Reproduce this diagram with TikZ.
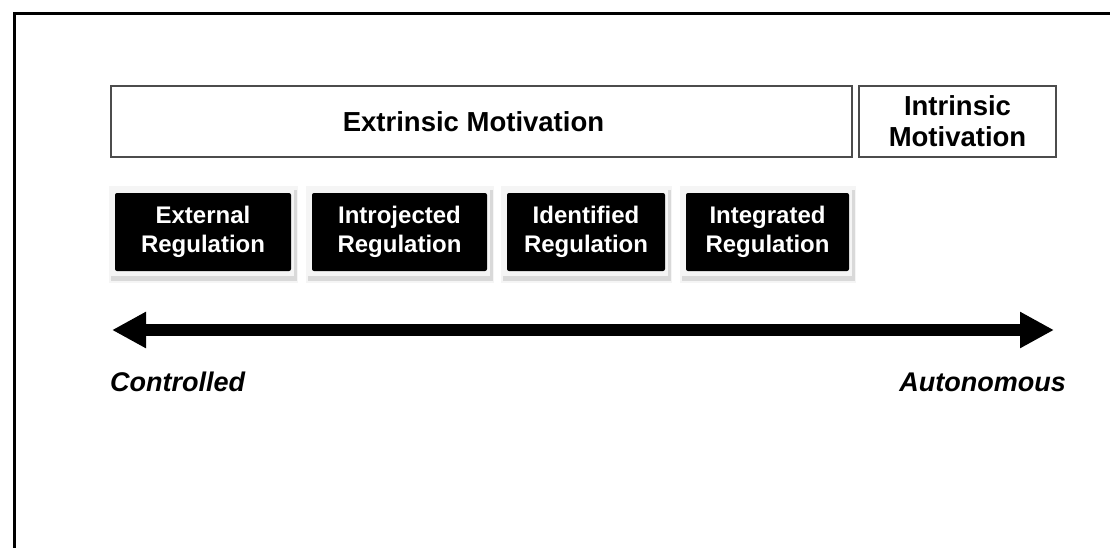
\documentclass[tikz,border=0pt]{standalone}
\usepackage{fontspec}
\setmainfont{Liberation Sans}
\usetikzlibrary{arrows.meta}

\tikzset{
    motbox/.style={draw=gray!60!black, line width=1.5pt, fill=white, align=center, inner sep=0pt,
        minimum height=71pt, font=\fontsize{27.5}{31}\selectfont\bfseries},
    regbox/.style={fill=black, rounded corners=2pt, text=white, align=center, inner sep=0pt,
        minimum height=78pt, font=\fontsize{24}{29}\selectfont\bfseries},
    endlabel/.style={inner sep=0pt, font=\fontsize{27}{32}\selectfont\bfseries\itshape},
}

\begin{document}
\begin{tikzpicture}[x=1pt, y=-1pt]
        \useasboundingbox (0,0) rectangle (1110,547);
        \fill[white] (0,0) rectangle (1110,547);

        % frame (only left and top show)
        \draw[black, line width=3pt] (14,549) -- (14,13) -- (1112,13);

        \node[motbox, minimum width=741pt] (extrinsic) at (481.5,121.5) {Extrinsic Motivation\hspace*{16pt}};
        \node[motbox, minimum width=197pt] (intrinsic) at (957.5,121.5) {Intrinsic\\Motivation};

        \foreach \x/\w/\name/\txt in {203/176/external/External, 399.5/175/introjected/Introjected,
                586/158/identified/Identified, 767.5/163/integrated/Integrated} {
            \fill[gray!8] (\x-\w/2-6,186) rectangle (\x+\w/2+7,283);
            \fill[gray!30] (\x-\w/2-4,276) rectangle (\x+\w/2+6,281);
            \fill[gray!30] (\x+\w/2+3,190) rectangle (\x+\w/2+6,281);
            \node[regbox, minimum width=\w pt] (\name) at (\x,232) {\txt\\Regulation};
        }

        \coordinate (left end) at (112,330);
        \coordinate (right end) at (1054,330);
        \draw[black, line width=12pt, {Triangle[length=34pt,width=34pt]}-{Triangle[length=34pt,width=34pt]}] (left end) -- (right end);

        \node[endlabel, anchor=west] (controlled) at (110,382) {Controlled};
        \node[endlabel, anchor=east] (autonomous) at (1066,382) {Autonomous};
    \end{tikzpicture}
\end{document}
